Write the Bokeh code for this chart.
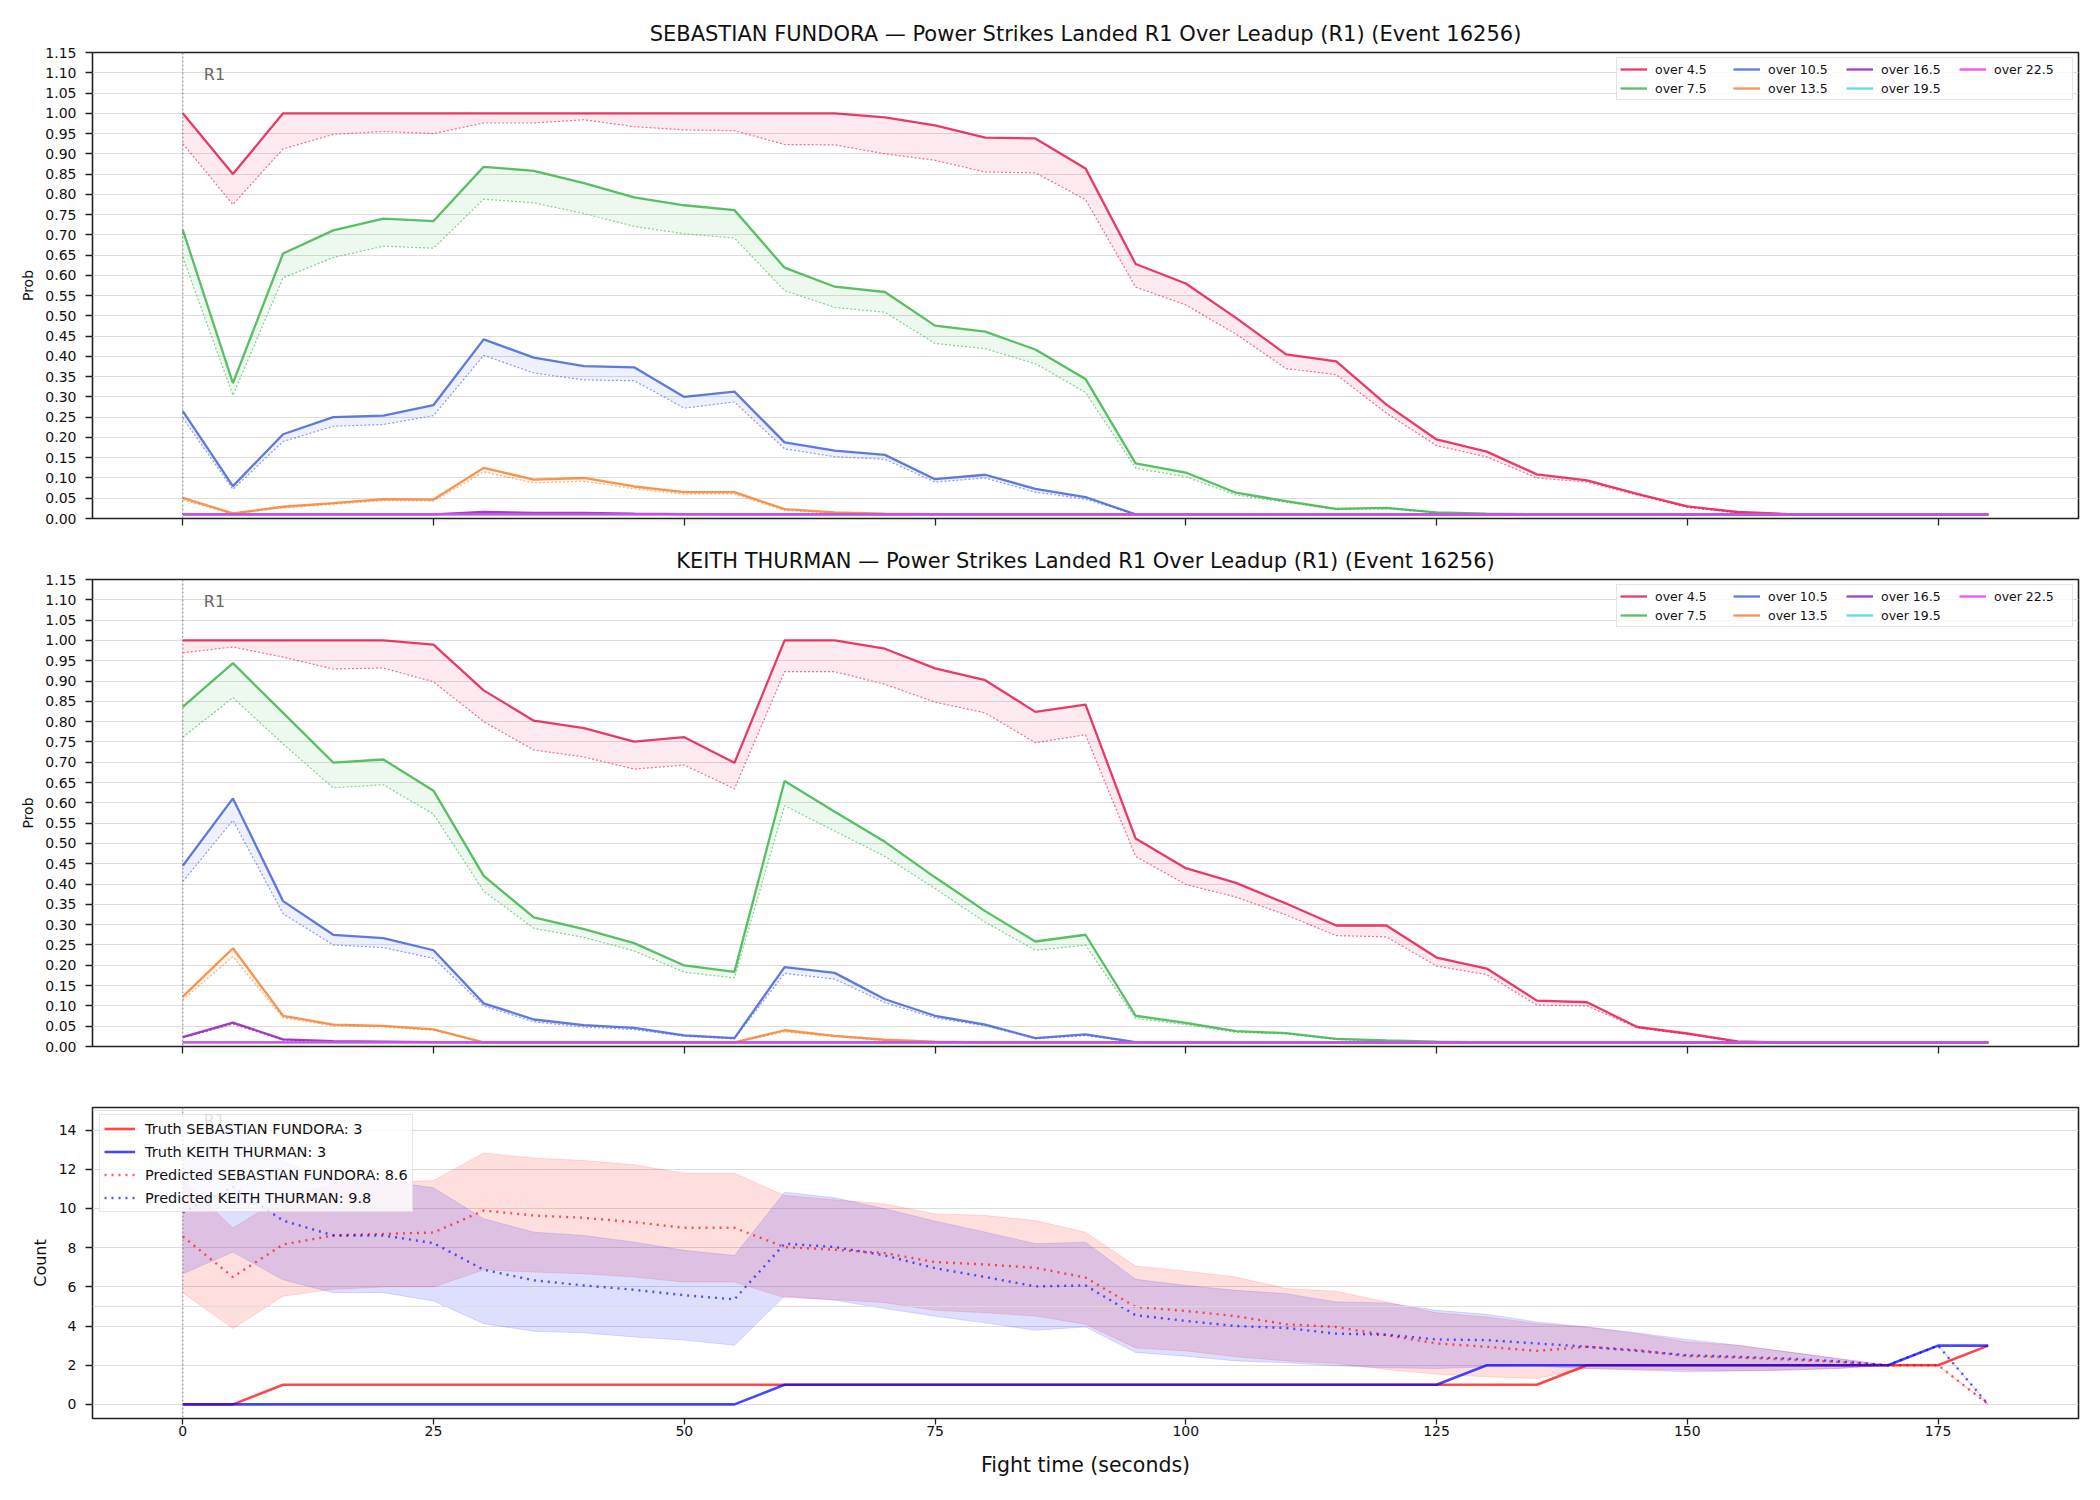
from bokeh.plotting import figure
from bokeh.layouts import column
from bokeh.models import (Range1d, FixedTicker, NumeralTickFormatter, Span, Label,
                          Legend, LegendItem, CustomJSTickFormatter)
from bokeh.embed import file_html
from bokeh.resources import INLINE

# ---------------- data ----------------
times = [0, 5, 10, 15, 20, 25, 30, 35, 40, 45, 50, 55, 60, 65, 70, 75, 80, 85, 90,
         95, 100, 105, 110, 115, 120, 125, 130, 135, 140, 145, 150, 155, 160, 165,
         170, 175, 180]

thresholds = ["over 4.5", "over 7.5", "over 10.5", "over 13.5", "over 16.5", "over 19.5", "over 22.5"]
threshold_colors = ["#e6194b", "#3cb44b", "#4363d8", "#f58231", "#911eb4", "#42d4f4", "#f032e6"]

prob_ticks = [0.00, 0.05, 0.10, 0.15, 0.20, 0.25, 0.30, 0.35, 0.40, 0.45, 0.50, 0.55,
              0.60, 0.65, 0.70, 0.75, 0.80, 0.85, 0.90, 0.95, 1.00, 1.05, 1.10, 1.15]
count_ticks = [0, 2, 4, 6, 8, 10, 12, 14]
time_ticks = [0, 25, 50, 75, 100, 125, 150, 175]
aux_count_grid = [5, 15]
round_marks = [0]
round_names = ["R1"]

# SEBASTIAN FUNDORA: solid (live) and dotted (lower) probabilities
fundora_o45_solid = [1.00, 0.85, 1.00, 1.00, 1.00, 1.00, 1.00, 1.00, 1.00, 1.00, 1.00, 1.00, 1.00, 1.00, 0.99, 0.97, 0.94, 0.938, 0.864,
                     0.628, 0.58, 0.495, 0.405, 0.388, 0.281, 0.195, 0.165, 0.109, 0.094, 0.061, 0.03, 0.016, 0.011, 0.01, 0.01, 0.01, 0.01]
fundora_o45_dotted = [0.925, 0.775, 0.912, 0.948, 0.955, 0.95, 0.976, 0.976, 0.984, 0.967, 0.959, 0.957, 0.923, 0.922, 0.90, 0.884, 0.855, 0.853, 0.787,
                      0.571, 0.527, 0.455, 0.37, 0.355, 0.26, 0.18, 0.152, 0.10, 0.09, 0.058, 0.027, 0.014, 0.01, 0.01, 0.01, 0.01, 0.01]
fundora_o75_solid = [0.7125, 0.334, 0.654, 0.711, 0.74, 0.734, 0.868, 0.858, 0.8275, 0.7925, 0.773, 0.761, 0.619, 0.572, 0.559, 0.476, 0.461, 0.417, 0.3445,
                     0.136, 0.1135, 0.0636, 0.0428, 0.0236, 0.026, 0.015, 0.012, 0.01, 0.01, 0.01, 0.01, 0.01, 0.01, 0.01, 0.01, 0.01, 0.01]
fundora_o75_dotted = [0.645, 0.304, 0.594, 0.644, 0.672, 0.667, 0.788, 0.779, 0.7525, 0.721, 0.7025, 0.692, 0.5625, 0.521, 0.509, 0.432, 0.419, 0.382, 0.311,
                      0.124, 0.103, 0.058, 0.04, 0.022, 0.024, 0.014, 0.011, 0.01, 0.01, 0.01, 0.01, 0.01, 0.01, 0.01, 0.01, 0.01, 0.01]
fundora_o105_solid = [0.265, 0.08, 0.208, 0.25, 0.254, 0.28, 0.442, 0.397, 0.376, 0.373, 0.30, 0.313, 0.188, 0.1675, 0.157, 0.097, 0.108, 0.073, 0.053,
                      0.01, 0.01, 0.01, 0.01, 0.01, 0.01, 0.01, 0.01, 0.01, 0.01, 0.01, 0.01, 0.01, 0.01, 0.01, 0.01, 0.01, 0.01]
fundora_o105_dotted = [0.248, 0.072, 0.19, 0.2275, 0.232, 0.254, 0.4025, 0.359, 0.342, 0.34, 0.2725, 0.2875, 0.172, 0.1525, 0.146, 0.09, 0.10, 0.065, 0.048,
                       0.01, 0.01, 0.01, 0.01, 0.01, 0.01, 0.01, 0.01, 0.01, 0.01, 0.01, 0.01, 0.01, 0.01, 0.01, 0.01, 0.01, 0.01]
fundora_o135_solid = [0.051, 0.0125, 0.029, 0.038, 0.048, 0.0467, 0.125, 0.096, 0.10, 0.079, 0.065, 0.065, 0.023, 0.015, 0.012, 0.011, 0.01, 0.01, 0.01,
                      0.01, 0.01, 0.01, 0.01, 0.01, 0.01, 0.01, 0.01, 0.01, 0.01, 0.01, 0.01, 0.01, 0.01, 0.01, 0.01, 0.01, 0.01]
fundora_o135_dotted = [0.046, 0.011, 0.026, 0.035, 0.044, 0.043, 0.115, 0.088, 0.092, 0.073, 0.06, 0.06, 0.02, 0.013, 0.011, 0.01, 0.01, 0.01, 0.01,
                       0.01, 0.01, 0.01, 0.01, 0.01, 0.01, 0.01, 0.01, 0.01, 0.01, 0.01, 0.01, 0.01, 0.01, 0.01, 0.01, 0.01, 0.01]
fundora_o165_solid = [0.01, 0.01, 0.01, 0.01, 0.01, 0.01, 0.016, 0.014, 0.014, 0.012, 0.011, 0.01, 0.01, 0.01, 0.01, 0.01, 0.01, 0.01, 0.01,
                      0.01, 0.01, 0.01, 0.01, 0.01, 0.01, 0.01, 0.01, 0.01, 0.01, 0.01, 0.01, 0.01, 0.01, 0.01, 0.01, 0.01, 0.01]
fundora_o165_dotted = [0.01, 0.01, 0.01, 0.01, 0.01, 0.01, 0.013, 0.012, 0.012, 0.011, 0.01, 0.01, 0.01, 0.01, 0.01, 0.01, 0.01, 0.01, 0.01,
                       0.01, 0.01, 0.01, 0.01, 0.01, 0.01, 0.01, 0.01, 0.01, 0.01, 0.01, 0.01, 0.01, 0.01, 0.01, 0.01, 0.01, 0.01]
fundora_o195_solid = [0.01] * 37
fundora_o195_dotted = [0.01] * 37
fundora_o225_solid = [0.01] * 37
fundora_o225_dotted = [0.01] * 37

# KEITH THURMAN
thurman_o45_solid = [1.0, 1.0, 1.0, 1.0, 1.0, 0.9895, 0.877, 0.8024, 0.784, 0.751, 0.7617, 0.6985, 1.0, 1.0, 0.9795, 0.931, 0.902, 0.824, 0.842,
                     0.512, 0.439, 0.403, 0.352, 0.298, 0.298, 0.219, 0.192, 0.113, 0.109, 0.048, 0.032, 0.0125, 0.01, 0.01, 0.01, 0.01, 0.01]
thurman_o45_dotted = [0.9696, 0.9837, 0.9588, 0.9296, 0.932, 0.898, 0.80, 0.73, 0.713, 0.683, 0.693, 0.6345, 0.923, 0.923, 0.892, 0.848, 0.8215, 0.748, 0.7675,
                      0.468, 0.399, 0.368, 0.324, 0.273, 0.27, 0.198, 0.177, 0.102, 0.10, 0.046, 0.03, 0.011, 0.01, 0.01, 0.01, 0.01, 0.01]
thurman_o75_solid = [0.8365, 0.944, 0.8215, 0.6993, 0.7068, 0.630, 0.42, 0.318, 0.289, 0.2545, 0.1996, 0.1838, 0.6536, 0.578, 0.504, 0.4166, 0.3334, 0.2586, 0.2752,
                     0.0757, 0.058, 0.038, 0.033, 0.019, 0.015, 0.012, 0.01, 0.01, 0.01, 0.01, 0.01, 0.01, 0.01, 0.01, 0.01, 0.01, 0.01]
thurman_o75_dotted = [0.7617, 0.859, 0.745, 0.637, 0.6445, 0.572, 0.3825, 0.291, 0.2686, 0.2353, 0.183, 0.1688, 0.593, 0.5305, 0.468, 0.389, 0.306, 0.237, 0.2495,
                      0.069, 0.054, 0.035, 0.031, 0.017, 0.013, 0.011, 0.01, 0.01, 0.01, 0.01, 0.01, 0.01, 0.01, 0.01, 0.01, 0.01, 0.01]
thurman_o105_solid = [0.445, 0.611, 0.358, 0.275, 0.267, 0.237, 0.1064, 0.0665, 0.0524, 0.0457, 0.0274, 0.0208, 0.1954, 0.1813, 0.1164, 0.0757, 0.054, 0.0208, 0.030,
                      0.011, 0.01, 0.01, 0.01, 0.01, 0.01, 0.01, 0.01, 0.01, 0.01, 0.01, 0.01, 0.01, 0.01, 0.01, 0.01, 0.01, 0.01]
thurman_o105_dotted = [0.406, 0.557, 0.327, 0.25, 0.2436, 0.217, 0.10, 0.0607, 0.048, 0.0416, 0.025, 0.019, 0.18, 0.166, 0.108, 0.0707, 0.0507, 0.019, 0.027,
                       0.01, 0.01, 0.01, 0.01, 0.01, 0.01, 0.01, 0.01, 0.01, 0.01, 0.01, 0.01, 0.01, 0.01, 0.01, 0.01, 0.01, 0.01]
thurman_o135_solid = [0.123, 0.242, 0.0757, 0.054, 0.0507, 0.0424, 0.01, 0.01, 0.01, 0.01, 0.01, 0.01, 0.04, 0.026, 0.0166, 0.012, 0.01, 0.01, 0.01,
                      0.01, 0.01, 0.01, 0.01, 0.01, 0.01, 0.01, 0.01, 0.01, 0.01, 0.01, 0.01, 0.01, 0.01, 0.01, 0.01, 0.01, 0.01]
thurman_o135_dotted = [0.115, 0.221, 0.0707, 0.0507, 0.048, 0.04, 0.01, 0.01, 0.01, 0.01, 0.01, 0.01, 0.036, 0.024, 0.015, 0.011, 0.01, 0.01, 0.01,
                       0.01, 0.01, 0.01, 0.01, 0.01, 0.01, 0.01, 0.01, 0.01, 0.01, 0.01, 0.01, 0.01, 0.01, 0.01, 0.01, 0.01, 0.01]
thurman_o165_solid = [0.0233, 0.059, 0.0175, 0.013, 0.012, 0.011, 0.01, 0.01, 0.01, 0.01, 0.01, 0.01, 0.01, 0.01, 0.01, 0.01, 0.01, 0.01, 0.01,
                      0.01, 0.01, 0.01, 0.01, 0.01, 0.01, 0.01, 0.01, 0.01, 0.01, 0.01, 0.01, 0.01, 0.01, 0.01, 0.01, 0.01, 0.01]
thurman_o165_dotted = [0.021, 0.055, 0.016, 0.012, 0.011, 0.01, 0.01, 0.01, 0.01, 0.01, 0.01, 0.01, 0.01, 0.01, 0.01, 0.01, 0.01, 0.01, 0.01,
                       0.01, 0.01, 0.01, 0.01, 0.01, 0.01, 0.01, 0.01, 0.01, 0.01, 0.01, 0.01, 0.01, 0.01, 0.01, 0.01, 0.01, 0.01]
thurman_o195_solid = [0.01] * 37
thurman_o195_dotted = [0.01] * 37
thurman_o225_solid = [0.01] * 37
thurman_o225_dotted = [0.01] * 37

# Counts panel
truth_fundora = [0, 0, 1, 1, 1, 1, 1, 1, 1, 1, 1, 1, 1, 1, 1, 1, 1, 1, 1,
                 1, 1, 1, 1, 1, 1, 1, 1, 1, 2, 2, 2, 2, 2, 2, 2, 2, 3]
truth_thurman = [0, 0, 0, 0, 0, 0, 0, 0, 0, 0, 0, 0, 1, 1, 1, 1, 1, 1, 1,
                 1, 1, 1, 1, 1, 1, 1, 2, 2, 2, 2, 2, 2, 2, 2, 2, 3, 3]
pred_fundora = [8.57, 6.50, 8.16, 8.62, 8.70, 8.77, 9.89, 9.64, 9.52, 9.30, 9.01, 9.01, 8.03, 7.89, 7.72, 7.26, 7.14, 6.97, 6.47,
                4.97, 4.77, 4.50, 4.09, 3.95, 3.53, 3.11, 2.94, 2.73, 2.94, 2.77, 2.46, 2.39, 2.29, 2.17, 2.0, 2.0, 0.0]
pred_thurman = [9.80, 11.1, 9.38, 8.62, 8.62, 8.23, 6.87, 6.33, 6.07, 5.85, 5.57, 5.36, 8.20, 8.03, 7.60, 6.95, 6.50, 6.02, 6.07,
                4.55, 4.26, 4.00, 3.90, 3.61, 3.56, 3.31, 3.28, 3.11, 2.94, 2.73, 2.51, 2.43, 2.34, 2.20, 2.0, 3.0, 0.0]
band_fundora_hi = [11.45, 9.0, 10.57, 11.25, 11.34, 11.42, 12.83, 12.57, 12.44, 12.23, 11.79, 11.79, 10.66, 10.44, 10.23, 9.72, 9.64, 9.38, 8.79,
                   7.06, 6.80, 6.50, 5.91, 5.77, 5.23, 4.67, 4.46, 4.12, 3.95, 3.61, 3.19, 3.02, 2.68, 2.34, 2.0, 2.0, 0.0]
band_fundora_lo = [5.70, 3.87, 5.52, 5.87, 5.99, 5.99, 6.87, 6.75, 6.67, 6.50, 6.24, 6.24, 5.45, 5.35, 5.19, 4.80, 4.68, 4.51, 4.09,
                   2.88, 2.73, 2.43, 2.22, 2.09, 1.78, 1.54, 1.41, 1.32, 1.83, 1.78, 1.75, 1.71, 1.75, 1.83, 2.0, 2.0, 0.0]
band_thurman_hi = [13.0, 14.43, 12.4, 11.45, 11.42, 11.05, 9.47, 8.79, 8.62, 8.28, 7.86, 7.60, 10.83, 10.54, 9.98, 9.35, 8.79, 8.20, 8.28,
                   6.38, 6.07, 5.82, 5.65, 5.23, 5.18, 4.80, 4.60, 4.21, 3.95, 3.65, 3.31, 3.02, 2.68, 2.34, 2.0, 3.0, 0.0]
band_thurman_lo = [6.67, 7.77, 6.36, 5.70, 5.70, 5.28, 4.12, 3.73, 3.65, 3.44, 3.28, 3.02, 5.52, 5.31, 4.89, 4.50, 4.16, 3.78, 3.95,
                   2.65, 2.46, 2.22, 2.12, 1.97, 1.87, 1.83, 1.92, 1.95, 1.83, 1.75, 1.66, 1.71, 1.75, 1.83, 2.0, 3.0, 0.0]

truth_label_fundora = "Truth SEBASTIAN FUNDORA: 3"
truth_label_thurman = "Truth KEITH THURMAN: 3"
pred_label_fundora = "Predicted SEBASTIAN FUNDORA: 8.6"
pred_label_thurman = "Predicted KEITH THURMAN: 9.8"

title_fundora = "SEBASTIAN FUNDORA \u2014 Power Strikes Landed R1 Over Leadup (R1) (Event 16256)"
title_thurman = "KEITH THURMAN \u2014 Power Strikes Landed R1 Over Leadup (R1) (Event 16256)"

fundora_solid = [fundora_o45_solid, fundora_o75_solid, fundora_o105_solid, fundora_o135_solid,
                 fundora_o165_solid, fundora_o195_solid, fundora_o225_solid]
fundora_dotted = [fundora_o45_dotted, fundora_o75_dotted, fundora_o105_dotted, fundora_o135_dotted,
                  fundora_o165_dotted, fundora_o195_dotted, fundora_o225_dotted]
thurman_solid = [thurman_o45_solid, thurman_o75_solid, thurman_o105_solid, thurman_o135_solid,
                 thurman_o165_solid, thurman_o195_solid, thurman_o225_solid]
thurman_dotted = [thurman_o45_dotted, thurman_o75_dotted, thurman_o105_dotted, thurman_o135_dotted,
                  thurman_o165_dotted, thurman_o195_dotted, thurman_o225_dotted]

# ---------------- styling ----------------
FONT = "DejaVu Sans"
FRAME_W = 1986
X_RANGE = (-9, 189)
GRID = "#dddddd"
SPINE = "#222222"


def base_figure(frame_h, border_top, border_bottom, y_lo, y_hi):
    p = figure(frame_width=FRAME_W, frame_height=frame_h,
               x_range=Range1d(*X_RANGE), y_range=Range1d(y_lo, y_hi),
               output_backend="svg", toolbar_location=None,
               min_border_left=92, min_border_right=22,
               min_border_top=border_top, min_border_bottom=border_bottom,
               background_fill_color="white", border_fill_color="white")
    p.outline_line_color = SPINE
    p.outline_line_width = 1.6
    p.xgrid.visible = False
    p.ygrid.grid_line_color = GRID
    p.ygrid.grid_line_width = 1
    for ax in (p.xaxis[0], p.yaxis[0]):
        ax.axis_line_color = None
        ax.major_tick_line_color = SPINE
        ax.major_tick_line_width = 1.3
        ax.major_tick_out = 7
        ax.major_tick_in = 0
        ax.minor_tick_line_color = None
        ax.major_label_text_font = FONT
        ax.major_label_text_font_size = "14px"
        ax.major_label_text_color = "#111111"
        ax.axis_label_text_font = FONT
        ax.axis_label_text_font_style = "normal"
        ax.axis_label_text_color = "#111111"
    p.xaxis.ticker = FixedTicker(ticks=time_ticks)
    p.yaxis.major_label_standoff = 9
    p.yaxis.axis_label_standoff = 6
    # round marker
    for t, name in zip(round_marks, round_names):
        p.add_layout(Span(location=t, dimension="height", line_color="#777777",
                          line_dash="2 2", line_width=1))
    p.title.align = "center"
    p.title.text_font = FONT
    p.title.text_font_size = "21px"
    p.title.text_font_style = "normal"
    p.title.text_color = "#111111"
    p.title.standoff = 14
    return p


def prob_figure(title, solids, dotteds, frame_h, border_top, border_bottom, r1_y):
    p = base_figure(frame_h, border_top, border_bottom, 0, 1.15)
    p.title.text = title
    p.yaxis.ticker = FixedTicker(ticks=prob_ticks)
    p.yaxis.formatter = NumeralTickFormatter(format="0.00")
    p.yaxis.axis_label = "Prob"
    p.yaxis.axis_label_text_font_size = "14px"
    p.xaxis.formatter = CustomJSTickFormatter(code="return ''")
    p.xaxis.major_label_standoff = 0
    p.xaxis.major_label_text_font_size = "1px"
    items = []
    for name, col, hi, lo in zip(thresholds, threshold_colors, solids, dotteds):
        p.varea(x=times, y1=lo, y2=hi, fill_color=col, fill_alpha=0.09)
        p.line(times, lo, line_color=col, line_width=1.2, line_alpha=0.6, line_dash="2 2")
        r = p.line(times, hi, line_color=col, line_width=2.3, line_alpha=0.85)
        items.append(LegendItem(label=name, renderers=[r]))
    for t, name in zip(round_marks, round_names):
        p.add_layout(Label(x=t, y=r1_y, x_offset=21, text=name, text_font=FONT,
                           text_font_size="16px", text_color="#666666",
                           text_baseline="middle", text_align="left"))
    leg = Legend(items=items, location="top_right", orientation="vertical", nrows=2,
                 margin=5, padding=3, spacing=3,
                 glyph_width=27, glyph_height=16, label_height=16, label_width=75,
                 label_standoff=8, label_text_font=FONT, label_text_font_size="12.5px",
                 label_text_color="#111111",
                 border_line_color="#cccccc", border_line_width=1.5,
                 background_fill_color="white", background_fill_alpha=0.8)
    p.add_layout(leg)
    return p


p1 = prob_figure(title_fundora, fundora_solid, fundora_dotted, 466, 52, 20, 1.095)
p2 = prob_figure(title_thurman, thurman_solid, thurman_dotted, 467, 41, 20, 1.095)

# ---------------- counts panel ----------------
p3 = base_figure(311, 41, 82, -0.72, 15.15)
p3.title.text = ""
p3.yaxis.ticker = FixedTicker(ticks=count_ticks)
p3.yaxis.axis_label = "Count"
p3.yaxis.axis_label_text_font_size = "16px"
p3.xaxis.axis_label = "Fight time (seconds)"
p3.xaxis.axis_label_text_font_size = "20.5px"
p3.xaxis.major_tick_out = 6
p3.xaxis.major_label_standoff = 1
p3.xaxis.axis_label_standoff = 14
for v in aux_count_grid:
    p3.add_layout(Span(location=v, dimension="width", line_color=GRID, line_width=1))

p3.varea(x=times, y1=band_fundora_lo, y2=band_fundora_hi, fill_color="red", fill_alpha=0.13)
p3.line(times, band_fundora_lo, line_color="red", line_alpha=0.12, line_width=1)
p3.line(times, band_fundora_hi, line_color="red", line_alpha=0.12, line_width=1)
p3.varea(x=times, y1=band_thurman_lo, y2=band_thurman_hi, fill_color="blue", fill_alpha=0.13)
p3.line(times, band_thurman_lo, line_color="blue", line_alpha=0.12, line_width=1)
p3.line(times, band_thurman_hi, line_color="blue", line_alpha=0.12, line_width=1)

r_tf = p3.line(times, truth_fundora, line_color="red", line_alpha=0.72, line_width=2.6)
r_tt = p3.line(times, truth_thurman, line_color="blue", line_alpha=0.72, line_width=2.6)
r_pf = p3.line(times, pred_fundora, line_color="red", line_alpha=0.65, line_width=2.4, line_dash="2 5")
r_pt = p3.line(times, pred_thurman, line_color="blue", line_alpha=0.65, line_width=2.4, line_dash="2 5")

for t, name in zip(round_marks, round_names):
    p3.add_layout(Label(x=t, y=14.47, x_offset=21, text=name, text_font=FONT,
                        text_font_size="16px", text_color="#666666",
                        text_baseline="middle", text_align="left"))

leg3 = Legend(items=[LegendItem(label=truth_label_fundora, renderers=[r_tf]),
                     LegendItem(label=truth_label_thurman, renderers=[r_tt]),
                     LegendItem(label=pred_label_fundora, renderers=[r_pf]),
                     LegendItem(label=pred_label_thurman, renderers=[r_pt])],
              location="top_left", orientation="vertical",
              margin=7, padding=4, spacing=4,
              glyph_width=31, glyph_height=19, label_height=19, label_standoff=10,
              label_text_font=FONT, label_text_font_size="14.5px", label_text_color="#111111",
              border_line_color="#cccccc", border_line_width=1.5,
              background_fill_color="white", background_fill_alpha=0.8)
p3.add_layout(leg3)

layout = column(p1, p2, p3, spacing=0)
open("out.html", "w").write(file_html(layout, INLINE))
